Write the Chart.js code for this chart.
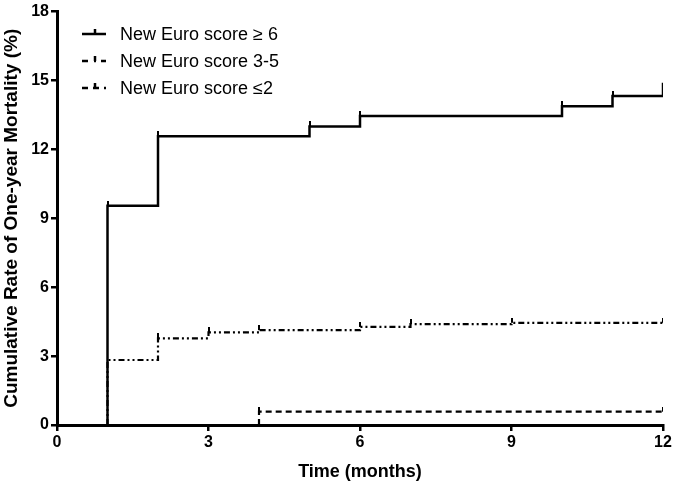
<!DOCTYPE html>
<html>
<head>
<meta charset="utf-8">
<script src="https://cdn.jsdelivr.net/npm/chart.js@4/dist/chart.umd.min.js"></script>
<style>
  html, body { margin: 0; padding: 0; background: #fff; }
  #wrap { width: 675px; height: 483px; }
</style>
</head>
<body>
<div id="wrap"><canvas id="km"></canvas></div>
<script>
// step curves (time in months, cumulative mortality %)
var highTime = [1, 1, 2, 5, 6, 10, 11, 12];
var highRate = [0, 9.55, 12.57, 13.0, 13.45, 13.88, 14.32, 14.9];
var midTime = [1, 1, 2, 3, 4, 6, 7, 9, 12];
var midRate = [0, 2.83, 3.77, 4.03, 4.13, 4.27, 4.39, 4.45, 4.45];
var lowTime = [4, 4, 12];
var lowRate = [0, 0.58, 0.58];

// censoring marks
var highCensorTime = [1, 2, 5, 6, 10, 11];
var highCensorRate = [9.55, 12.57, 13.0, 13.45, 13.88, 14.32];
var midCensorTime = [2, 3, 4, 6, 7, 9, 12];
var midCensorRate = [3.77, 4.03, 4.13, 4.27, 4.39, 4.45, 4.45];
var lowCensorTime = [4, 12];
var lowCensorRate = [0.58, 0.58];

var seriesLabels = ['New Euro score \u2265 6', 'New Euro score 3-5', 'New Euro score \u22642'];
var xTicks = [0, 3, 6, 9, 12];
var yTicks = [0, 3, 6, 9, 12, 15, 18];

var FONT = '"Liberation Sans", Arial, sans-serif';

function pts(t, v) {
    return t.map(function (x, i) { return { x: x, y: v[i] }; });
}

// small tick that sits above the point
var tickImg = document.createElement('canvas');
tickImg.width = 2;
tickImg.height = 10;
var tctx = tickImg.getContext('2d');
tctx.fillStyle = '#000';
tctx.fillRect(0, 0, 2, 5);

var dashes = [[], [6, 3, 2, 3, 2, 3], [6, 4]];

function stepSet(label, data, dash, w) {
    return {
        label: label,
        data: data,
        stepped: true,
        borderColor: '#000',
        borderWidth: w,
        borderDash: dash,
        pointRadius: 0,
        fill: false
    };
}
function censorSet(data) {
    return {
        label: '',
        data: data,
        showLine: false,
        pointStyle: tickImg,
        pointRadius: 3,
        borderColor: '#000',
        backgroundColor: '#000'
    };
}

var legendInside = {
    id: 'legendInside',
    afterDraw: function (chart) {
        var ctx = chart.ctx;
        ctx.save();
        ctx.font = '18px ' + FONT;
        ctx.textBaseline = 'middle';
        ctx.fillStyle = '#000';
        var rows = [34, 61, 88];
        seriesLabels.forEach(function (lab, i) {
            var y = rows[i];
            ctx.strokeStyle = '#000';
            ctx.lineWidth = 2.5;
            ctx.setLineDash(i === 0 ? [] : (i === 1 ? [6, 6, 2, 5] : [6, 5]));
            ctx.beginPath();
            ctx.moveTo(82, y);
            ctx.lineTo(106, y);
            ctx.stroke();
            ctx.setLineDash([]);
            ctx.beginPath();
            ctx.moveTo(95, y);
            ctx.lineTo(95, y - 5);
            ctx.stroke();
            ctx.fillText(lab, 120, y + 1);
        });
        ctx.restore();
    }
};

new Chart(document.getElementById('km'), {
    type: 'line',
    data: {
        datasets: [
            stepSet(seriesLabels[0], pts(highTime, highRate), dashes[0], 2.5),
            stepSet(seriesLabels[1], pts(midTime, midRate), dashes[1], 2.2),
            stepSet(seriesLabels[2], pts(lowTime, lowRate), dashes[2], 2.2),
            censorSet(pts(highCensorTime, highCensorRate)),
            censorSet(pts(midCensorTime, midCensorRate)),
            censorSet(pts(lowCensorTime, lowCensorRate))
        ]
    },
    options: {
        responsive: true,
        maintainAspectRatio: false,
        animation: false,
        layout: { padding: { top: 10, right: 12, left: 0, bottom: 0 } },
        plugins: {
            legend: { display: false },
            tooltip: { enabled: false }
        },
        scales: {
            x: {
                type: 'linear',
                min: 0,
                max: 12,
                afterBuildTicks: function (s) { s.ticks = xTicks.map(function (v) { return { value: v }; }); },
                afterFit: function (s) { s.height = 58; },
                border: { color: '#000', width: 3 },
                grid: { drawOnChartArea: false, drawTicks: true, tickLength: 6, color: '#000', lineWidth: 2.5 },
                ticks: {
                    color: '#000',
                    padding: 2,
                    font: { family: FONT, size: 16, weight: 'bold' }
                },
                title: {
                    display: true,
                    text: 'Time (months)',
                    color: '#000',
                    padding: { top: 3, bottom: 0 },
                    font: { family: FONT, size: 18, weight: 'bold' }
                }
            },
            y: {
                min: 0,
                max: 18,
                afterBuildTicks: function (s) { s.ticks = yTicks.map(function (v) { return { value: v }; }); },
                afterFit: function (s) { s.width = 57; },
                border: { color: '#000', width: 3 },
                grid: { drawOnChartArea: false, drawTicks: true, tickLength: 6, color: '#000', lineWidth: 2.5 },
                ticks: {
                    color: '#000',
                    padding: 2,
                    font: { family: FONT, size: 16, weight: 'bold' }
                },
                title: {
                    display: true,
                    text: 'Cumulative Rate of One-year Mortality (%)',
                    color: '#000',
                    padding: { top: 0, bottom: 0 },
                    font: { family: FONT, size: 19, weight: 'bold' }
                }
            }
        }
    },
    plugins: [legendInside]
});
</script>
</body>
</html>
